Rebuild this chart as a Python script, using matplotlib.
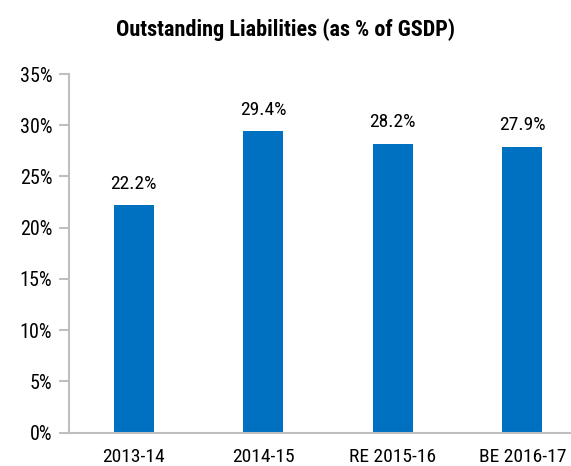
import matplotlib.pyplot as plt
from matplotlib.ticker import FuncFormatter

# data
categories = ['2013-14', '2014-15', 'RE 2015-16', 'BE 2016-17']
values = [22.2, 29.4, 28.2, 27.9]
yticks = [0, 5, 10, 15, 20, 25, 30, 35]

plt.rcParams['font.family'] = ['Roboto Condensed', 'DejaVu Sans']

fig = plt.figure(figsize=(5.71, 4.66), dpi=100)
ax = fig.add_axes([69 / 571, 1 - 432.7 / 466, 502 / 571, (432.7 - 74) / 466])

x = range(len(categories))
ax.bar(x, values, width=0.31, color='#0070C0')
for xi, v in zip(x, values):
    ax.text(xi, v + 1.2, f'{v:.1f}%', ha='center', va='bottom', fontsize=14)

ax.set_xlim(-0.5, 3.376)
ax.set_ylim(0, 35)
ax.set_yticks(yticks)
ax.yaxis.set_major_formatter(FuncFormatter(lambda v, p: f'{v:.0f}%'))
ax.set_xticks(list(x))
ax.set_xticklabels(categories)
ax.tick_params(axis='y', length=7, width=1.5, color='#bfbfbf', labelsize=14.5, pad=5)
ax.tick_params(axis='x', length=0, labelsize=14, pad=11)

for s in ['top', 'right']:
    ax.spines[s].set_visible(False)
for s in ['left', 'bottom']:
    ax.spines[s].set_color('#bfbfbf')
    ax.spines[s].set_linewidth(1.5)

fig.text(0.5, 1 - 30 / 466, 'Outstanding Liabilities (as % of GSDP)', ha='center', va='center',
         fontsize=16, fontweight='bold')

fig.savefig('out.png', dpi=100)
